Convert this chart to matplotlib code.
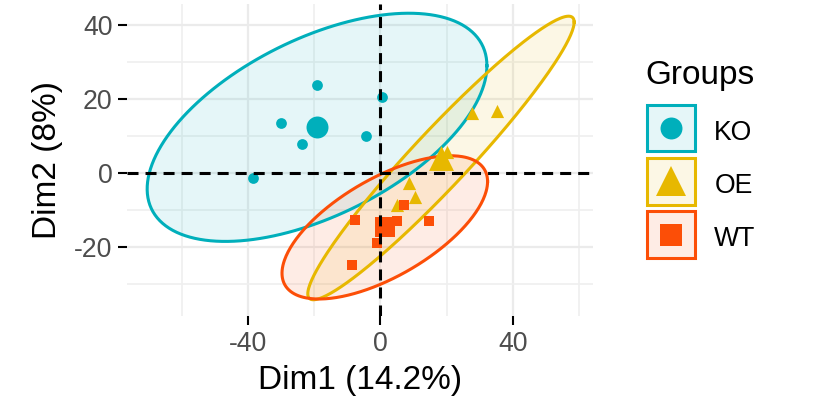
import numpy as np
import matplotlib
matplotlib.use("Agg")
import matplotlib.pyplot as plt
from matplotlib.lines import Line2D
from matplotlib.patches import Rectangle
from matplotlib.legend_handler import HandlerBase
from matplotlib.colors import to_rgba

plt.rcParams['font.family'] = ['Liberation Sans', 'DejaVu Sans']

# ---------------- data ----------------
groups = ["KO", "OE", "WT"]
colors = ["#00AFBB", "#E7B800", "#FC4E07"]
markers = ["o", "^", "s"]

ko_x = [-19.2, 0.6, -30.1, -4.3, -23.6, -38.6]
ko_y = [23.7, 20.5, 13.4, 10.0, 7.7, -1.5]
oe_x = [27.6, 35.4, 20.1, 8.5, 10.5, 5.0]
oe_y = [16.1, 16.8, 5.7, -2.9, -6.5, -8.7]
wt_x = [7.0, -7.7, 5.0, 14.8, 2.7, -1.1, -8.6]
wt_y = [-8.7, -12.8, -13.0, -13.2, -15.9, -18.9, -24.9]

centroid_x = [-19.2, 18.3, 1.3]
centroid_y = [12.3, 4.0, -14.8]

# concentration ellipses: half extent along x, along y, correlation
ell_ex = [51.4, 40.3, 31.1]
ell_ey = [30.9, 38.4, 19.4]
ell_rho = [0.54, 0.958, 0.64]

x_ticks = [-40, 0, 40]
y_ticks = [-20, 0, 20, 40]
x_minor = [-60, -20, 20, 60]
y_minor = [-30, -10, 10, 30]

xlabel = "Dim1 (14.2%)"
ylabel = "Dim2 (8%)"
legend_title = "Groups"

pts_x = [ko_x, oe_x, wt_x]
pts_y = [ko_y, oe_y, wt_y]

# ---------------- figure ----------------
fig = plt.figure(figsize=(8.2, 3.99), dpi=100)
ax = fig.add_axes([127/820, (399-316)/399, 466/820, 312/399])
ax.set_xlim(-76.7, 64.3)
ax.set_ylim(-38.8, 45.7)

for s in ax.spines.values():
    s.set_visible(False)

ax.set_xticks(x_ticks)
ax.set_yticks(y_ticks)
ax.set_xticks(x_minor, minor=True)
ax.set_yticks(y_minor, minor=True)
ax.grid(True, which='major', color='#EBEBEB', lw=1.6, zorder=0)
ax.grid(True, which='minor', color='#EFEFEF', lw=1.2, zorder=0)
ax.set_axisbelow(True)
ax.tick_params(which='major', length=6.5, width=1.5, color='black',
               labelsize=19.2, labelcolor='#4D4D4D', pad=4)
ax.tick_params(which='minor', length=0)
ax.set_xticklabels([str(v) for v in x_ticks])
ax.set_yticklabels([str(v) for v in y_ticks])

t = np.linspace(0, 2*np.pi, 300)
for i, g in enumerate(groups):
    cx, cy = centroid_x[i], centroid_y[i]
    ex, ey, r = ell_ex[i], ell_ey[i], ell_rho[i]
    ex_pts = cx + ex*np.cos(t)
    ey_pts = cy + ey*(r*np.cos(t) + np.sqrt(1 - r*r)*np.sin(t))
    ax.fill(ex_pts, ey_pts, facecolor=to_rgba(colors[i], 0.1), edgecolor='none', zorder=1)
    ax.plot(ex_pts, ey_pts, color=colors[i], lw=2.2, zorder=2)

small_sizes = {"o": 60, "^": 90, "s": 62}
big_sizes = {"o": 250, "^": 320, "s": 210}
for i, g in enumerate(groups):
    ax.scatter(pts_x[i], pts_y[i], marker=markers[i], s=small_sizes[markers[i]],
               color=colors[i], linewidths=0, zorder=3)
    ax.scatter([centroid_x[i]], [centroid_y[i]], marker=markers[i], s=big_sizes[markers[i]],
               color=colors[i], linewidths=0, zorder=3)

ax.axhline(0, color='black', lw=2.2, dashes=(3.6, 2.3), zorder=4)
ax.axvline(0, color='black', lw=2.2, dashes=(3.6, 2.3), zorder=4)

ax.set_xlabel(xlabel, fontsize=24, labelpad=6)
ax.set_ylabel(ylabel, fontsize=24, labelpad=8)


# legend with full-size keys (box + marker overlaid)
class KeyHandle:
    def __init__(self, color, marker, ms):
        self.color, self.marker, self.ms = color, marker, ms


KEY_SHIFT = 2.6  # points: raise key box slightly relative to label text


class KeyHandler(HandlerBase):
    def create_artists(self, legend, orig, xdescent, ydescent, width, height, fontsize, trans):
        lw = 2.2
        off = lw / 2
        y0 = -ydescent + KEY_SHIFT
        rect = Rectangle((-xdescent + off, y0 + off), width - 2*off, height - 2*off,
                         facecolor=to_rgba(orig.color, 0.1), edgecolor=orig.color, lw=lw,
                         transform=trans)
        cx = -xdescent + width / 2
        cy = y0 + height / 2
        mk = Line2D([cx], [cy], marker=orig.marker, color=orig.color, ls='',
                    markersize=orig.ms, markeredgewidth=0, transform=trans)
        return [rect, mk]


msizes = {"o": 15.8, "^": 21, "s": 15.8}
handles = [KeyHandle(colors[i], markers[i], msizes[markers[i]]) for i in range(len(groups))]
fs = 19.2
key_h_pt = 36.0
hh = (key_h_pt / fs - 0.245) / 0.65
fig.legend(handles, groups, handler_map={KeyHandle: KeyHandler()},
           loc='upper left', bbox_to_anchor=(645/820, 1 - (103 + KEY_SHIFT/0.72)/399),
           frameon=False, fontsize=fs, handlelength=1.95, handleheight=hh,
           labelspacing=0.125, handletextpad=0.65, borderpad=0, borderaxespad=0)
fig.text(645/820, 1 - 84/399, legend_title, fontsize=24, ha='left', va='baseline')

fig.savefig("out.png", dpi=100)
